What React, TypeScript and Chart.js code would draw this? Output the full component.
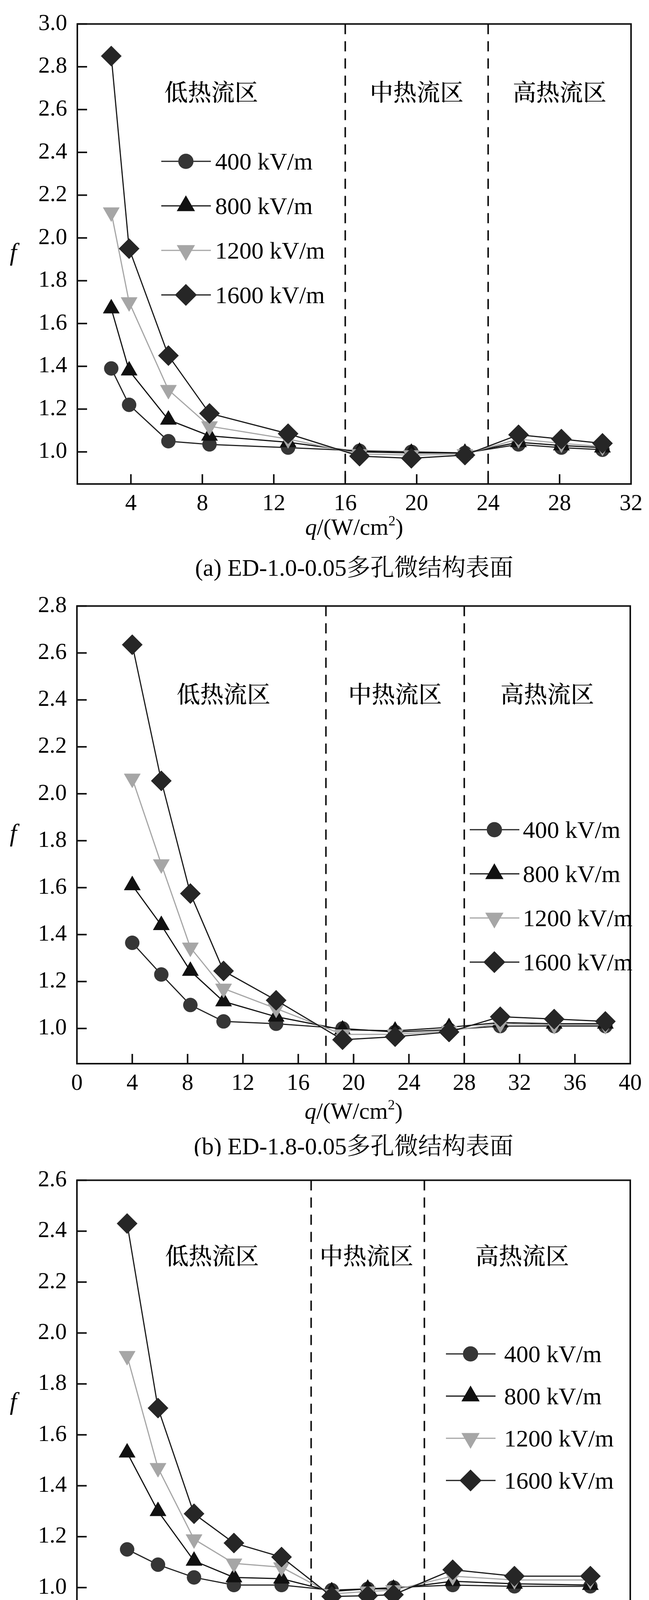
import { useEffect, useRef } from 'react'
import { Chart, registerables } from 'chart.js'
import { drawPoint } from 'chart.js/helpers'

Chart.register(...registerables)

document.body.style.margin = '0'

const FONT = "'Liberation Serif', 'Times New Roman', serif"
const CJK = "'Noto Serif CJK SC', 'Noto Sans CJK SC', serif"
const MIXED = "'Liberation Serif', 'Noto Serif CJK SC', 'Noto Sans CJK SC', serif"
const W = 1662

const seriesLabels = ['400 kV/m', '800 kV/m', '1200 kV/m', '1600 kV/m']
const regionNames = ['低热流区', '中热流区', '高热流区']

// (a) ED-1.0-0.05
const qA = [2.9, 3.9, 6.1, 8.4, 12.8, 16.8, 19.7, 22.7, 25.7, 28.1, 30.4]
const fA400 = [1.39, 1.22, 1.05, 1.035, 1.02, 1.005, 1.0, 0.995, 1.035, 1.02, 1.01]
const fA800 = [1.67, 1.38, 1.15, 1.075, 1.045, 1.0, 0.995, 0.995, 1.045, 1.03, 1.02]
const fA1200 = [2.12, 1.7, 1.29, 1.12, 1.06, 0.99, 0.985, 0.99, 1.06, 1.04, 1.025]
const fA1600 = [2.85, 1.95, 1.45, 1.18, 1.085, 0.98, 0.97, 0.985, 1.08, 1.06, 1.04]
const xTicksA = [4, 8, 12, 16, 20, 24, 28, 32]
const yTicksA = [1.0, 1.2, 1.4, 1.6, 1.8, 2.0, 2.2, 2.4, 2.6, 2.8, 3.0]
const boundsA = [16, 24]

// (b) ED-1.8-0.05
const qB = [4.0, 6.1, 8.2, 10.6, 14.4, 19.2, 23.0, 26.9, 30.6, 34.5, 38.2]
const fB400 = [1.365, 1.23, 1.1, 1.03, 1.02, 1.0, 0.985, 0.995, 1.01, 1.01, 1.01]
const fB800 = [1.61, 1.44, 1.245, 1.115, 1.05, 0.995, 0.99, 1.005, 1.025, 1.02, 1.02]
const fB1200 = [2.065, 1.7, 1.345, 1.17, 1.085, 0.975, 0.975, 0.99, 1.02, 1.015, 1.015]
const fB1600 = [2.635, 2.055, 1.575, 1.245, 1.12, 0.952, 0.965, 0.985, 1.05, 1.04, 1.03]
const xTicksB = [0, 4, 8, 12, 16, 20, 24, 28, 32, 36, 40]
const yTicksB = [1.0, 1.2, 1.4, 1.6, 1.8, 2.0, 2.2, 2.4, 2.6, 2.8]
const boundsB = [18, 28]

// (c) ED-2.2-0.05
const qC = [4.9, 7.3, 10.1, 13.2, 16.9, 20.8, 23.6, 25.6, 30.2, 35.0, 40.9]
const fC400 = [1.15, 1.09, 1.04, 1.01, 1.01, 0.99, 0.995, 1.0, 1.01, 1.005, 1.005]
const fC800 = [1.53, 1.3, 1.105, 1.04, 1.035, 0.985, 0.995, 0.995, 1.025, 1.015, 1.01]
const fC1200 = [1.91, 1.47, 1.19, 1.095, 1.08, 0.975, 0.985, 0.99, 1.045, 1.03, 1.03]
const fC1600 = [2.43, 1.705, 1.29, 1.175, 1.12, 0.965, 0.968, 0.972, 1.07, 1.045, 1.045]
const xTicksC = [4, 8, 12, 16, 20, 24, 28, 32, 36, 40, 44]
const yTicksC = [1.0, 1.2, 1.4, 1.6, 1.8, 2.0, 2.2, 2.4, 2.6]
const boundsC = [19.2, 28]

const seriesStyle = [
  { pointStyle: 'circle', rotation: 0, line: '#222', fill: '#363636', radius: 18 },
  { pointStyle: 'triangle', rotation: 0, line: '#141414', fill: '#111', radius: 24 },
  { pointStyle: 'triangle', rotation: 180, line: '#a6a6a6', fill: '#a6a6a6', radius: 24 },
  { pointStyle: 'rectRot', rotation: 0, line: '#1a1a1a', fill: '#262626', radius: 26 },
]

type PanelDef = {
  top: number
  height: number
  area: { left: number; right: number; top: number; bottom: number }
  xMin: number
  xMax: number
  yMin: number
  yMax: number
  xTicks: number[]
  yTicks: number[]
  q: number[]
  f: number[][]
  bounds: number[]
  regionX: number[]
  regionY: number
  legend: { x: number; y: number; dy: number; textX: number }
  xLabelY: number
  captionY: number
  caption: string
}

const panels: PanelDef[] = [
  {
    top: 0,
    height: 1490,
    area: { left: 198, right: 1616, top: 36, bottom: 1239 },
    xMin: 1,
    xMax: 32,
    yMin: 0.85,
    yMax: 3.0,
    xTicks: xTicksA,
    yTicks: yTicksA,
    q: qA,
    f: [fA400, fA800, fA1200, fA1600],
    bounds: boundsA,
    regionX: [8.5, 20, 28],
    regionY: 174,
    legend: { x: 413, y: 413, dy: 114, textX: 551 },
    xLabelY: 1349,
    captionY: 1454,
    caption: '(a) ED-1.0-0.05多孔微结构表面',
  },
  {
    top: 1490,
    height: 1470,
    area: { left: 197, right: 1614, top: 39, bottom: 1233 },
    xMin: 0,
    xMax: 40,
    yMin: 0.85,
    yMax: 2.8,
    xTicks: xTicksB,
    yTicks: yTicksB,
    q: qB,
    f: [fB400, fB800, fB1200, fB1600],
    bounds: boundsB,
    regionX: [10.6, 23, 34],
    regionY: 225,
    legend: { x: 1203, y: 634, dy: 113, textX: 1339 },
    xLabelY: 1354,
    captionY: 1445,
    caption: '(b) ED-1.8-0.05多孔微结构表面',
  },
  {
    top: 2960,
    height: 1454,
    area: { left: 197, right: 1614, top: 57, bottom: 1202 },
    xMin: 1,
    xMax: 44,
    yMin: 0.85,
    yMax: 2.6,
    xTicks: xTicksC,
    yTicks: yTicksC,
    q: qC,
    f: [fC400, fC800, fC1200, fC1600],
    bounds: boundsC,
    regionX: [11.5, 23.5, 35.6],
    regionY: 193,
    legend: { x: 1142, y: 506, dy: 108, textX: 1291 },
    xLabelY: 1306,
    captionY: 1418,
    caption: '(c) ED-2.2-0.05多孔微结构表面',
  },
]

function Panel({ p }: { p: PanelDef }) {
  const ref = useRef<HTMLCanvasElement>(null)

  useEffect(() => {
    if (!ref.current) return
    const a = p.area

    const decor = {
      id: 'decor',
      beforeDatasetsDraw(chart: Chart) {
        const { ctx, chartArea, scales } = chart
        ctx.save()
        ctx.strokeStyle = '#111'
        ctx.lineWidth = 4
        ctx.setLineDash([26, 18])
        p.bounds.forEach((b) => {
          const x = scales.x.getPixelForValue(b)
          ctx.beginPath()
          ctx.moveTo(x, chartArea.top)
          ctx.lineTo(x, chartArea.bottom)
          ctx.stroke()
        })
        ctx.setLineDash([])
        ctx.fillStyle = '#000'
        ctx.font = `500 60px ${CJK}`
        ctx.textAlign = 'center'
        ctx.textBaseline = 'middle'
        regionNames.forEach((t, i) => {
          ctx.fillText(t, scales.x.getPixelForValue(p.regionX[i]), chartArea.top + p.regionY)
        })
        ctx.restore()
      },
      afterDraw(chart: Chart) {
        const { ctx, chartArea: ca, scales } = chart
        ctx.save()
        // frame + inward ticks
        ctx.strokeStyle = '#111'
        ctx.lineWidth = 4
        ctx.strokeRect(ca.left, ca.top, ca.right - ca.left, ca.bottom - ca.top)
        p.xTicks.forEach((v) => {
          const x = scales.x.getPixelForValue(v)
          ctx.beginPath()
          ctx.moveTo(x, ca.bottom)
          ctx.lineTo(x, ca.bottom - 25)
          ctx.stroke()
        })
        p.yTicks.forEach((v) => {
          const y = scales.y.getPixelForValue(v)
          ctx.beginPath()
          ctx.moveTo(ca.left, y)
          ctx.lineTo(ca.left + 25, y)
          ctx.stroke()
        })

        // legend
        const lg = p.legend
        seriesStyle.forEach((s, i) => {
          const y = lg.y + i * lg.dy
          ctx.strokeStyle = s.line
          ctx.lineWidth = 3
          ctx.beginPath()
          ctx.moveTo(lg.x, y)
          ctx.lineTo(lg.x + 127, y)
          ctx.stroke()
          ctx.fillStyle = s.fill
          ctx.strokeStyle = s.fill
          drawPoint(
            ctx,
            { pointStyle: s.pointStyle as any, rotation: s.rotation, radius: s.radius, borderWidth: 1 },
            lg.x + 63,
            y,
          )
          ctx.fillStyle = '#000'
          ctx.font = `62px ${FONT}`
          ctx.textAlign = 'left'
          ctx.textBaseline = 'alphabetic'
          ctx.fillText(seriesLabels[i], lg.textX, y + 21)
        })

        // axis titles
        ctx.fillStyle = '#000'
        ctx.textBaseline = 'alphabetic'
        const cx = (ca.left + ca.right) / 2
        const base = p.xLabelY + 20
        const parts = [
          { t: 'q', font: `italic 60px ${FONT}`, dy: 0 },
          { t: '/(W/cm', font: `60px ${FONT}`, dy: 0 },
          { t: '2', font: `36px ${FONT}`, dy: -24 },
          { t: ')', font: `60px ${FONT}`, dy: 0 },
        ]
        let total = 0
        parts.forEach((pt) => {
          ctx.font = pt.font
          total += ctx.measureText(pt.t).width
        })
        let x = cx - total / 2
        ctx.textAlign = 'left'
        parts.forEach((pt) => {
          ctx.font = pt.font
          ctx.fillText(pt.t, x, base + pt.dy)
          x += ctx.measureText(pt.t).width
        })

        ctx.font = `italic 64px ${FONT}`
        ctx.textAlign = 'center'
        ctx.fillText('f', 34, (ca.top + ca.bottom) / 2 + 16)

        ctx.font = `61px ${MIXED}`
        ctx.fillText(p.caption, cx, p.captionY + 20)
        ctx.restore()
      },
    }

    const tickFont = { family: FONT, size: 59 }

    const chart = new Chart(ref.current, {
      type: 'line',
      data: {
        datasets: seriesStyle.map((s, i) => ({
          label: seriesLabels[i],
          data: p.q.map((x, j) => ({ x, y: p.f[i][j] })),
          order: 3 - i,
          borderColor: s.line,
          borderWidth: 3,
          tension: 0,
          fill: false,
          pointStyle: s.pointStyle as any,
          pointRotation: s.rotation,
          pointRadius: s.radius,
          pointHoverRadius: s.radius,
          pointBackgroundColor: s.fill,
          pointBorderColor: s.fill,
          pointBorderWidth: 1,
        })),
      },
      options: {
        responsive: false,
        maintainAspectRatio: false,
        devicePixelRatio: 1,
        animation: false,
        events: [],
        layout: {
          padding: { left: 0, top: a.top, right: W - a.right, bottom: p.height - a.bottom - 100 },
        },
        scales: {
          x: {
            type: 'linear',
            min: p.xMin,
            max: p.xMax,
            afterBuildTicks: (s: any) => {
              s.ticks = p.xTicks.map((v) => ({ value: v }))
            },
            afterFit: (s: any) => {
              s.height = 100
            },
            grid: { display: false, drawTicks: false },
            border: { display: false },
            ticks: {
              autoSkip: false,
              maxRotation: 0,
              padding: 16,
              color: '#000',
              font: tickFont,
              callback: (v: any) => String(v),
            },
          },
          y: {
            type: 'linear',
            min: p.yMin,
            max: p.yMax,
            afterBuildTicks: (s: any) => {
              s.ticks = p.yTicks.map((v) => ({ value: v }))
            },
            afterFit: (s: any) => {
              s.width = a.left
            },
            grid: { display: false, drawTicks: false },
            border: { display: false },
            ticks: {
              autoSkip: false,
              padding: 26,
              color: '#000',
              font: tickFont,
              callback: (v: any) => Number(v).toFixed(1),
            },
          },
        },
        plugins: {
          legend: { display: false },
          tooltip: { enabled: false },
        },
      },
      plugins: [decor],
    })

    return () => chart.destroy()
  }, [p])

  return (
    <canvas
      ref={ref}
      width={W}
      height={p.height}
      style={{ position: 'absolute', left: 0, top: p.top, width: W, height: p.height }}
    />
  )
}

export default function App() {
  return (
    <div style={{ position: 'relative', width: W, height: 4414, background: '#fff' }}>
      {panels.map((p, i) => (
        <Panel key={i} p={p} />
      ))}
    </div>
  )
}
